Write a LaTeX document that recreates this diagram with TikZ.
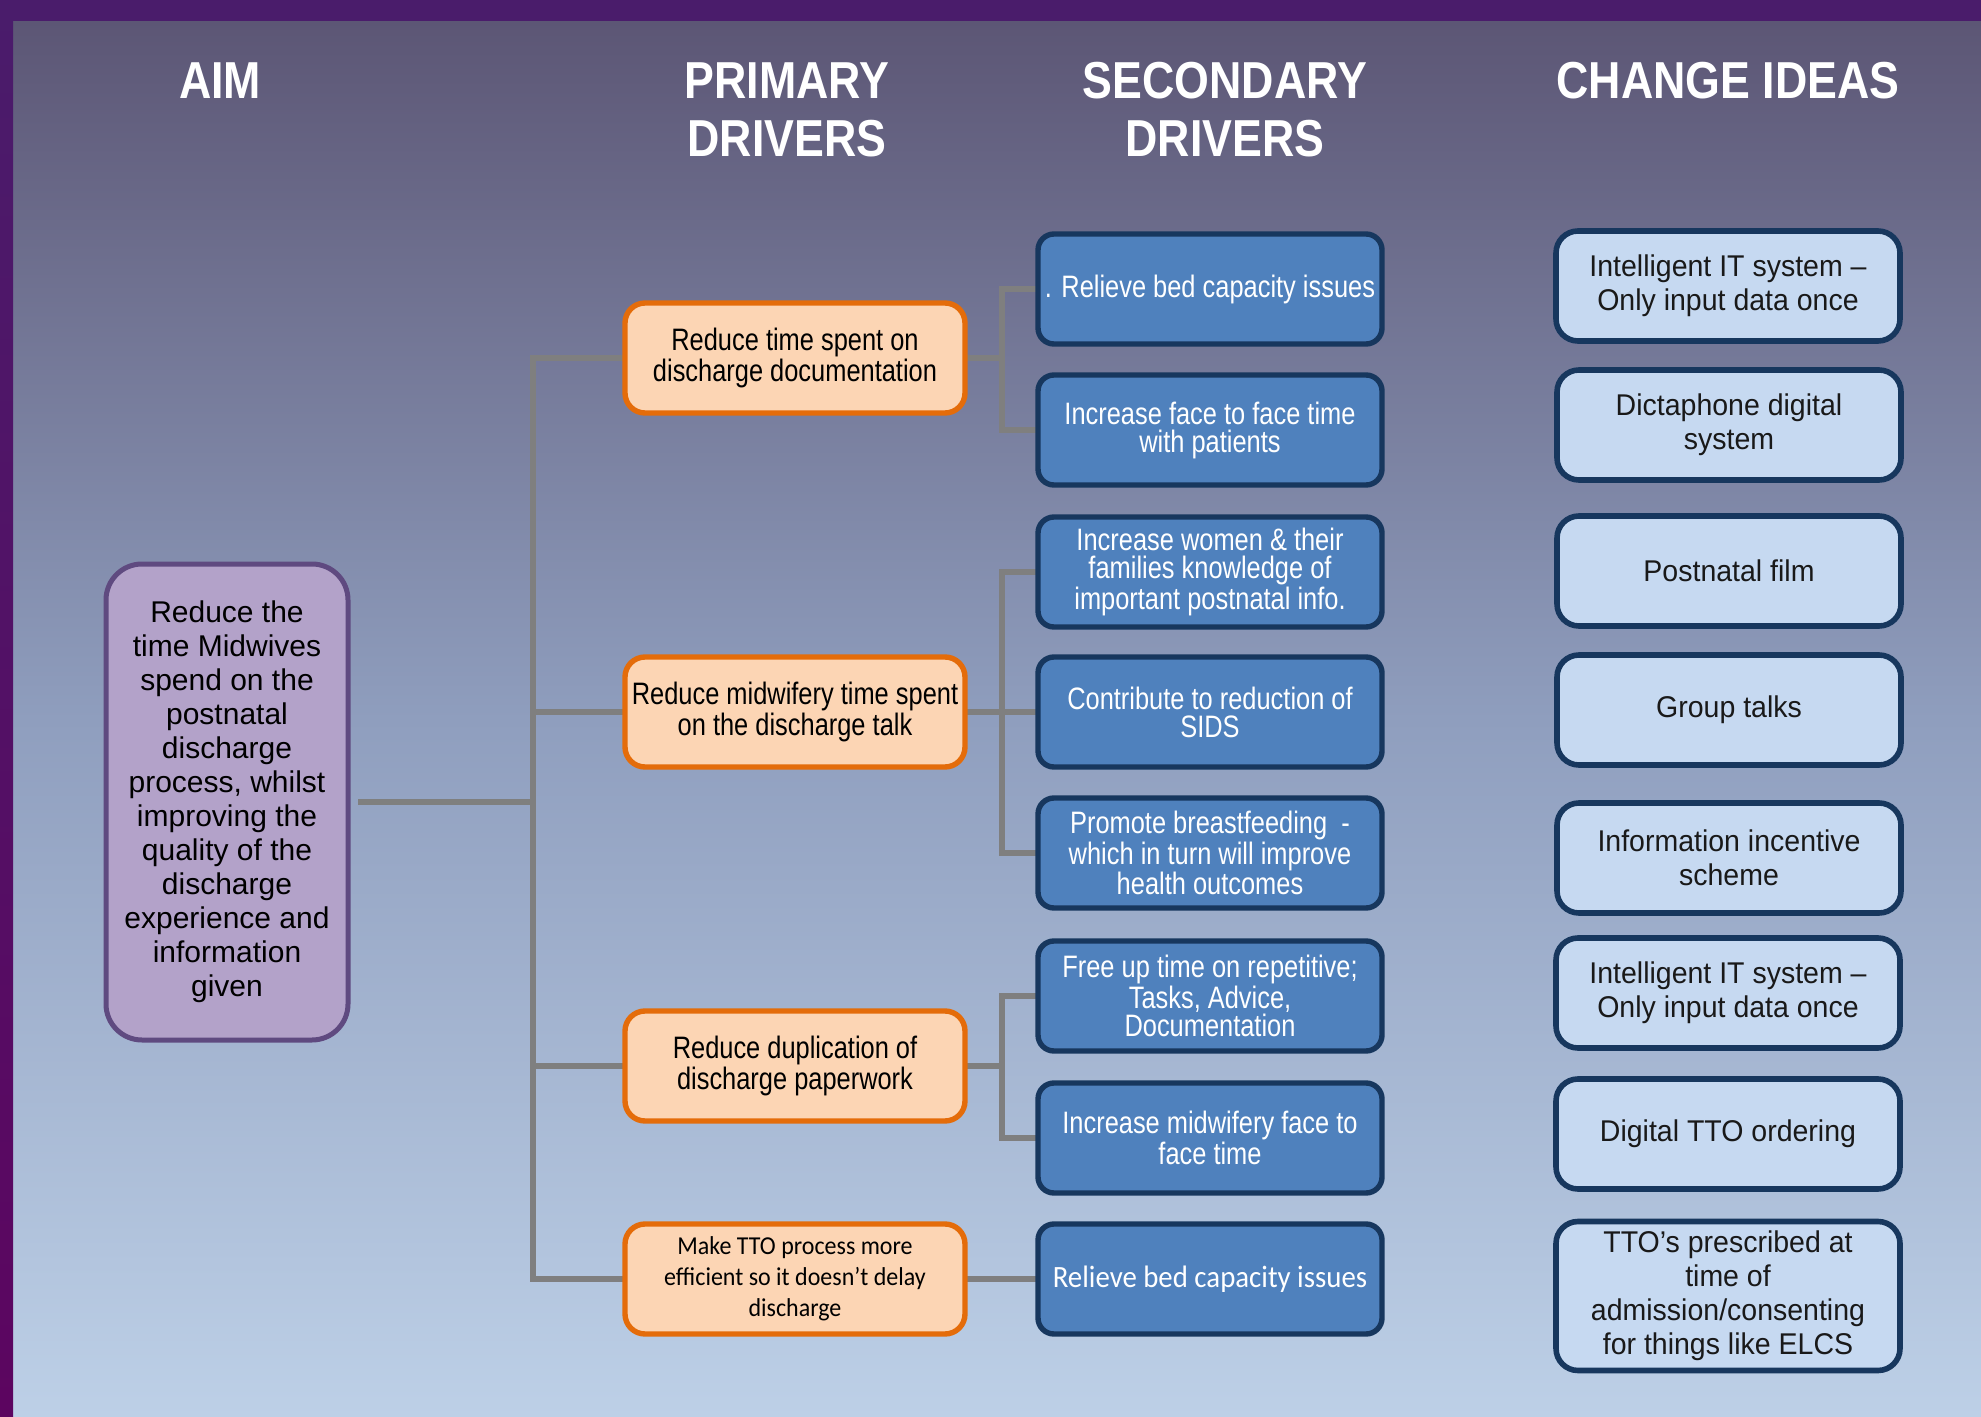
\documentclass[tikz,border=0pt]{standalone}
\usepackage{fontspec}
\setmainfont{Liberation Sans}
\newfontfamily\narrowfont[FakeStretch=0.82]{Liberation Sans}
\newfontfamily\headfont[FakeStretch=0.86]{Liberation Sans}
\newfontfamily\ideafont[FakeStretch=0.95]{Liberation Sans}
\newfontfamily\califont[FakeStretch=0.93]{Carlito}
\definecolor{bgtop}{HTML}{5C5675}
\definecolor{bgmid}{HTML}{8F9EBE}
\definecolor{bgbot}{HTML}{BDD0E7}
\definecolor{frametop}{HTML}{4A1C6B}
\definecolor{framebot}{HTML}{5C0560}
\definecolor{aimfill}{HTML}{B3A2C9}
\definecolor{aimline}{HTML}{5F4A80}
\definecolor{prifill}{HTML}{FCD5B4}
\definecolor{priline}{HTML}{E46C0A}
\definecolor{secfill}{HTML}{4F81BD}
\definecolor{secline}{HTML}{17375E}
\definecolor{ideafill}{HTML}{C6D9F1}
\definecolor{linkgray}{HTML}{7F7F7F}
\pgfdeclarelayer{back}
\pgfdeclarelayer{wires}
\pgfsetlayers{back,wires,main}
\begin{document}
\begin{tikzpicture}[x=0.5pt, y=-0.5pt, line join=round, font=\narrowfont,
	aimbox/.style={draw=aimline, fill=aimfill, line width=2.5pt, rounded corners=18pt, minimum width=121pt, minimum height=238pt, align=center, font=\fontsize{15}{17}\selectfont},
	pribox/.style={draw=priline, fill=prifill, line width=2.7pt, rounded corners=10pt, minimum width=170pt, minimum height=55pt, inner sep=2pt, align=center, font=\narrowfont\fontsize{15.5}{14}\selectfont},
	secbox/.style={draw=secline, fill=secfill, text=white, line width=2.7pt, rounded corners=8pt, minimum width=172pt, minimum height=55pt, inner sep=2pt, align=center, font=\narrowfont\fontsize{15.5}{14}\selectfont},
	ideabox/.style={draw=secline, fill=ideafill, text=black!90, line width=2.8pt, rounded corners=11pt, minimum width=172pt, minimum height=55pt, inner sep=2pt, align=center, font=\ideafont\fontsize{15}{17}\selectfont},
	heading/.style={text=white, align=center, font=\headfont\bfseries\fontsize{26}{29}\selectfont},
	link/.style={draw=linkgray, line width=2.7pt, line cap=rect}]
	\useasboundingbox (0,0) rectangle (1981,1417);
	\begin{pgfonlayer}{back}
		\shade[top color=bgtop, bottom color=bgbot, middle color=bgmid] (13,21) rectangle (1981,1417);
		\shade[top color=frametop, bottom color=framebot] (0,0) rectangle (13,1417);
		\fill[frametop] (0,0) rectangle (1981,21);
	\end{pgfonlayer}
	% column headings
	\node[heading] (haim) at (220,81) {AIM};
	\node[heading] (hpri) at (787,110) {PRIMARY\\DRIVERS};
	\node[heading] (hsec) at (1225,110) {SECONDARY\\DRIVERS};
	\node[heading] (hidea) at (1728,81) {CHANGE IDEAS};
	% aim
	\node[aimbox] (aim) at (227,802) {Reduce the\\time Midwives\\spend on the\\postnatal\\discharge\\process, whilst\\improving the\\quality of the\\discharge\\experience and\\information\\given};
	% primary drivers
	\node[pribox] (pd1) at (795,358) {Reduce time spent on\\discharge documentation};
	\node[pribox] (pd2) at (795,712) {Reduce midwifery time spent\\on the discharge talk};
	\node[pribox] (pd3) at (795,1066) {Reduce duplication of\\discharge paperwork};
	\node[pribox, font=\califont\fontsize{12.9}{15.5}\selectfont] (pd4) at (795,1279) {Make TTO process more\\efficient so it doesn’t delay\\discharge};
	% secondary drivers
	\node[secbox] (sd1) at (1210,289) {. Relieve bed capacity issues};
	\node[secbox] (sd2) at (1210,430) {Increase face to face time\\with patients};
	\node[secbox] (sd3) at (1210,572) {Increase women \& their\\families knowledge of\\important postnatal info.};
	\node[secbox] (sd4) at (1210,712) {Contribute to reduction of\\SIDS};
	\node[secbox] (sd5) at (1210,853) {Promote breastfeeding\ \ -\\which in turn will improve\\health outcomes};
	\node[secbox] (sd6) at (1210,996) {Free up time on repetitive;\\Tasks, Advice,\\Documentation};
	\node[secbox] (sd7) at (1210,1138) {Increase midwifery face to\\face time};
	\node[secbox, font=\califont\fontsize{15.5}{17}\selectfont] (sd8) at (1210,1279) {Relieve bed capacity issues};
	% change ideas
	\node[ideabox] (ci1) at (1728,286) {Intelligent IT system –\\Only input data once};
	\node[ideabox] (ci2) at (1729,425) {Dictaphone digital\\system};
	\node[ideabox] (ci3) at (1729,571) {Postnatal film};
	\node[ideabox] (ci4) at (1729,710) {Group talks};
	\node[ideabox] (ci5) at (1729,858) {Information incentive\\scheme};
	\node[ideabox] (ci6) at (1728,993) {Intelligent IT system –\\Only input data once};
	\node[ideabox] (ci7) at (1728,1134) {Digital TTO ordering};
	\node[ideabox, minimum height=74.5pt] (ci8) at (1728,1296) {TTO’s prescribed at\\time of\\admission/consenting\\for things like ELCS};
	% connectors
	\coordinate (trunk) at (533,0);
	\coordinate (branch) at (1002,0);
	\begin{pgfonlayer}{wires}
		\draw[link] ([xshift=5pt]aim.east) -- (aim.east -| trunk);
		\draw[link] (pd1.west -| trunk) -- (pd4.west -| trunk);
		\foreach \p in {pd1,pd2,pd3,pd4}
			\draw[link] (\p.west -| trunk) -- (\p.west);
		\foreach \p/\a/\b in {pd1/sd1/sd2, pd2/sd3/sd5, pd3/sd6/sd7}{
			\draw[link] (\p.east) -- (\p.east -| branch);
			\draw[link] (\a.west -| branch) -- (\b.west -| branch);
		}
		\foreach \s in {sd1,sd2,sd3,sd4,sd5,sd6,sd7}
			\draw[link] (\s.west -| branch) -- (\s.west);
		\draw[link] (pd4.east) -- (sd8.west);
	\end{pgfonlayer}
\end{tikzpicture}
\end{document}
